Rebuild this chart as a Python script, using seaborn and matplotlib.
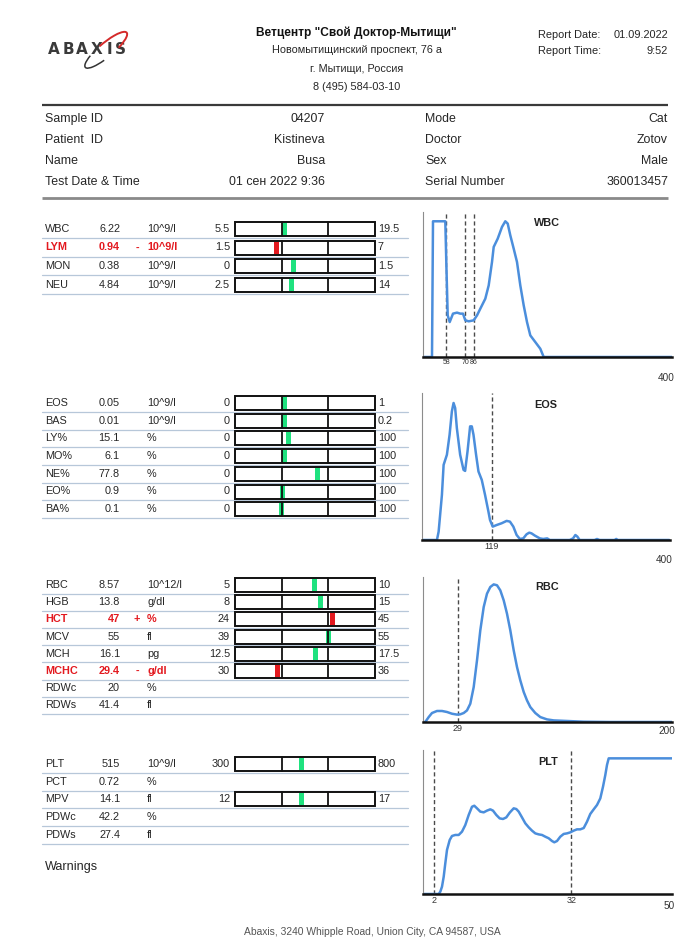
import numpy as np
import pandas as pd
import matplotlib
matplotlib.use("Agg")
import matplotlib.pyplot as plt
import seaborn as sns
from matplotlib.patches import Rectangle, Arc

# ---------------- DATA ----------------
clinic_name = 'Ветцентр "Свой Доктор-Мытищи"'
clinic_address = ["Новомытищинский проспект, 76 а", "г. Мытищи, Россия", "8 (495) 584-03-10"]
report_labels = ["Report Date:", "Report Time:"]
report_values = ["01.09.2022", "9:52"]

info_left_labels = ["Sample ID", "Patient  ID", "Name", "Test Date & Time"]
info_left_values = ["04207", "Kistineva", "Busa", "01 сен 2022 9:36"]
info_right_labels = ["Mode", "Doctor", "Sex", "Serial Number"]
info_right_values = ["Cat", "Zotov", "Male", "360013457"]

wbc_names = ["WBC", "LYM", "MON", "NEU"]
wbc_values = ["6.22", "0.94", "0.38", "4.84"]
wbc_flags = ["", "-", "", ""]
wbc_units = ["10^9/l", "10^9/l", "10^9/l", "10^9/l"]
wbc_low = ["5.5", "1.5", "0", "2.5"]
wbc_high = ["19.5", "7", "1.5", "14"]

eos_names = ["EOS", "BAS", "LY%", "MO%", "NE%", "EO%", "BA%"]
eos_values = ["0.05", "0.01", "15.1", "6.1", "77.8", "0.9", "0.1"]
eos_flags = ["", "", "", "", "", "", ""]
eos_units = ["10^9/l", "10^9/l", "%", "%", "%", "%", "%"]
eos_low = ["0", "0", "0", "0", "0", "0", "0"]
eos_high = ["1", "0.2", "100", "100", "100", "100", "100"]

rbc_names = ["RBC", "HGB", "HCT", "MCV", "MCH", "MCHC", "RDWc", "RDWs"]
rbc_values = ["8.57", "13.8", "47", "55", "16.1", "29.4", "20", "41.4"]
rbc_flags = ["", "", "+", "", "", "-", "", ""]
rbc_units = ["10^12/l", "g/dl", "%", "fl", "pg", "g/dl", "%", "fl"]
rbc_low = ["5", "8", "24", "39", "12.5", "30", None, None]
rbc_high = ["10", "15", "45", "55", "17.5", "36", None, None]

plt_names = ["PLT", "PCT", "MPV", "PDWc", "PDWs"]
plt_values = ["515", "0.72", "14.1", "42.2", "27.4"]
plt_flags = ["", "", "", "", ""]
plt_units = ["10^9/l", "%", "fl", "%", "fl"]
plt_low = ["300", None, "12", None, None]
plt_high = ["800", None, "17", None, None]

# histogram curves (channel, relative count)
wbc_hist_x = [0, 9, 10, 22.3, 23.5, 24.7, 26.7, 30, 34, 37.3, 40, 42.3, 45.7, 50.7, 54, 57.3, 62.3,
              65.7, 69, 70.7, 74.7, 79, 82.3, 84.7, 87.3, 90.7, 94, 97.3, 100.7, 104, 107.3, 112.3,
              117.3, 120.7, 249]
wbc_hist_y = [0, 0, 93.6, 93.6, 60, 28.7, 24.1, 29.9, 30.6, 29.9, 29.9, 25.3, 24.6, 25.3, 28.7, 33.3, 40.2,
              49.4, 65.5, 75.9, 81.6, 89.7, 93.6, 92.0, 83.9, 74.7, 65.5, 49.4, 35.6, 24.1, 14.9, 10.3,
              5.7, 0, 0]
wbc_disc = [23.3, 42.3, 50.7]
wbc_disc_labels = ["58", "70", "86"]

eos_hist_x = [0, 15, 16.7, 20, 21.7, 25, 27.7, 30, 31.7, 33.3, 35, 38.3, 41.7, 43.3, 45.7, 48.3, 50,
              51.7, 54.3, 56.7, 60, 63.3, 66.7, 68.3, 71, 75, 80, 85, 88.3, 91.7, 95, 98.3, 101.7, 105,
              107.7, 110, 113.3, 118.3, 121.7, 125.7, 128.3, 148.3, 151.7, 154, 156, 158.3, 173.3,
              175.7, 178.3, 193.3, 195, 196.7, 248.3]
eos_hist_y = [0, 0, 5.7, 30.7, 51.1, 58, 71.6, 87.5, 93.2, 89.8, 76.1, 58, 47.7, 47, 60.2, 77.3, 77.3,
              71.6, 58, 46.6, 40.9, 30.7, 19.3, 13.6, 9.1, 10.2, 11.4, 13, 12.5, 9.1, 3.4, 0.7, 1.1, 3.9,
              5, 4.5, 3, 1.1, 0.7, 1.1, 0, 0, 1.1, 3.4, 2.3, 0, 0, 0.7, 0, 0, 0.7, 0, 0]
eos_disc = [70]
eos_disc_labels = ["119"]

rbc_hist_x = [0, 2.3, 5.7, 9, 14, 19, 24, 29, 34, 37.3, 40.7, 44, 47.3, 50.7, 54, 57.3, 60.7, 64, 67.3,
              70.7, 74, 77.3, 80.7, 84, 87.3, 90.7, 94, 97.3, 100.7, 104, 107.3, 112.3, 117.3, 124,
              130.7, 144, 160.7, 187.3, 249]
rbc_hist_y = [0, 0, 3.4, 6.2, 7.6, 7.6, 6.9, 5.7, 5.1, 5.3, 6.2, 8, 12.6, 24.1, 42.5, 63.2, 79.3, 88.5,
              93.1, 94.9, 94.3, 90.8, 83.9, 74.7, 63.2, 49.4, 37.9, 28.7, 20.7, 14.9, 10.3, 6.2, 3.4,
              1.8, 1.1, 0.7, 0.2, 0, 0]
rbc_disc = [35]
rbc_disc_labels = ["29"]

plt_hist_x = [0, 15.7, 17.3, 19, 20.7, 22.3, 24, 26.7, 29, 32.3, 35.7, 39, 42.3, 45.7, 49, 51.3, 54, 57.3,
              60.7, 64, 67.3, 70, 73.3, 76.7, 80, 83.3, 86.7, 90.7, 93.3, 95.7, 99, 102.3, 105.7, 109,
              112.3, 115.7, 119, 122.3, 125.7, 129, 131.3, 134, 137.3, 140.7, 144, 147.3, 150.7, 154,
              157.3, 160.7, 164, 167.3, 170.7, 174, 177.3, 180, 182.3, 184, 185.7, 249]
plt_hist_y = [0, 0, 1.6, 5.1, 12, 21.3, 30.6, 37.5, 40.3, 41, 41, 43.3, 47.9, 54.9, 60.6, 61.3, 59.5,
              57.2, 56.7, 57.9, 58.8, 57.9, 54.9, 52.5, 52.1, 53.2, 56.5, 59.5, 59, 57.2, 53.2, 49.1,
              46.3, 44, 42.1, 41.4, 41, 39.8, 38.7, 36.8, 35.9, 36.8, 39.8, 41.7, 42.1, 42.8, 44,
              44.9, 44.9, 45.8, 50.2, 55.6, 58.8, 61.8, 66.4, 74.5, 82.6, 89.6, 94.2, 94.2]
plt_disc = [10.7, 148.3]
plt_disc_labels = ["2", "32"]

footer = "Abaxis, 3240 Whipple Road, Union City, CA 94587, USA"

# ---------------- STYLE ----------------
sns.set_theme(style="white")
plt.rcParams["font.family"] = ["Liberation Sans", "DejaVu Sans"]

W, H = 700, 951
TXT = "#262626"
RED = "#e3191f"
GREEN = "#1fe27f"
BLUE = "#4b8edc"
SEP = "#b7c7d9"
FS = 7.8

fig = plt.figure(figsize=(7, 9.51), dpi=100)
bg = fig.add_axes([0, 0, 1, 1])
bg.set_xlim(0, W)
bg.set_ylim(H, 0)
bg.axis("off")


def t(x, y, s, fs=FS, c=TXT, ha="left", va="center", **kw):
    bg.text(x, y, s, fontsize=fs, color=c, ha=ha, va=va, **kw)


# ---------------- HEADER ----------------
# logo
for ch, lx in zip("ABAXIS", [54, 68, 82, 97, 109, 120]):
    t(lx, 49, ch, fs=11, c="#3a3a3a", ha="center", fontweight="bold",
      family=["DejaVu Sans"])
bg.add_patch(Arc((106, 50), 54, 14, angle=-40, theta1=-110, theta2=30, color="#d42a2a",
                 lw=1.4, zorder=3))
bg.add_patch(Arc((106, 50), 54, 14, angle=-40, theta1=140, theta2=200, color="#333333",
                 lw=1.1, zorder=3))

t(356, 33, clinic_name, fs=8.6, ha="center", fontweight="bold", c="#111111")
for i, line in enumerate(clinic_address):
    t(357, 50 + i * 18.5, line, fs=7.8, ha="center")
for i, (lab, val) in enumerate(zip(report_labels, report_values)):
    t(538, 35 + i * 15.5, lab, fs=7.9)
    t(668, 35 + i * 15.5, val, fs=7.9, ha="right")

bg.plot([42, 668], [105, 105], color="#3a3a3a", lw=1.6, solid_capstyle="butt")

for i in range(4):
    y = 119 + i * 21
    t(45, y, info_left_labels[i], fs=8.9)
    t(325, y, info_left_values[i], fs=8.9, ha="right")
    t(425, y, info_right_labels[i], fs=8.9)
    t(668, y, info_right_values[i], fs=8.9, ha="right")

bg.plot([42, 668], [198, 198], color="#8a8a8a", lw=2.0, solid_capstyle="butt")

# ---------------- TABLES ----------------
BOX_L, BOX_R = 235, 375
D1 = BOX_L + (BOX_R - BOX_L) / 3
D2 = BOX_L + 2 * (BOX_R - BOX_L) / 3


def section(y0, dy, names, values, flags, units, lows, highs):
    for i in range(len(names)):
        y = y0 + i * dy
        flagged = flags[i] != ""
        col = RED if flagged else TXT
        fw = "bold" if flagged else "normal"
        t(45, y, names[i], c=col, fontweight=fw)
        t(120, y, values[i], c=col, fontweight=fw, ha="right")
        if flagged:
            t(137, y, flags[i], c=col, fontweight="bold", ha="center")
        t(147, y, units[i], c=col, fontweight=fw)
        if lows[i] is not None:
            lo, hi, v = float(lows[i]), float(highs[i]), float(values[i])
            t(230, y, lows[i], ha="right")
            t(378, y, highs[i])
            bg.add_patch(Rectangle((BOX_L, y - 7), BOX_R - BOX_L, 14, fill=False,
                                   ec="#111111", lw=1.4, zorder=3))
            frac = (v - lo) / (hi - lo)
            mx = D1 + frac * (D2 - D1)
            mx = min(max(mx, BOX_L + 3), BOX_R - 3)
            bg.add_patch(Rectangle((mx - 2.5, y - 6), 5, 12, color=RED if flagged else GREEN,
                                   lw=0, zorder=2))
            for d in (D1, D2):
                bg.plot([d, d], [y - 7, y + 7], color="#111111", lw=1.3, zorder=4)
        bg.plot([42, 408], [y + dy / 2, y + dy / 2], color=SEP, lw=0.9, zorder=1)


section(229, 18.5, wbc_names, wbc_values, wbc_flags, wbc_units, wbc_low, wbc_high)
section(403, 17.7, eos_names, eos_values, eos_flags, eos_units, eos_low, eos_high)
section(585, 17.2, rbc_names, rbc_values, rbc_flags, rbc_units, rbc_low, rbc_high)
section(764, 17.7, plt_names, plt_values, plt_flags, plt_units, plt_low, plt_high)
t(45, 867, "Warnings", fs=9.1)

t(372, 932, footer, fs=7.4, c="#555555", ha="center")


# ---------------- HISTOGRAMS ----------------
def hist(box, xs, ys, title, disc, disc_labels, tick_fs, end_label, end_dy, title_xy):
    l, tp, r, b = box
    ax = fig.add_axes([l / W, 1 - b / H, (r - l) / W, (b - tp) / H])
    ax.set_facecolor("none")
    df = pd.DataFrame({"channel": xs, "count": ys})
    sns.lineplot(data=df, x="channel", y="count", ax=ax, color=BLUE, lw=1.8,
                 estimator=None, sort=False, zorder=2)
    for d in disc:
        ax.axvline(d, color="#4a4a4a", lw=1.0, ls=(0, (3, 2)), zorder=1)
    ax.set_xlim(0, 249)
    ax.set_ylim(0, 100)
    ax.set_xticks(disc)
    ax.set_xticklabels(disc_labels)
    ax.tick_params(axis="x", length=0, pad=1.5, labelsize=tick_fs, colors="#333333")
    ax.set_yticks([])
    ax.set_xlabel("")
    ax.set_ylabel("")
    for s in ("top", "right"):
        ax.spines[s].set_visible(False)
    ax.spines["left"].set_color("#8c8c8c")
    ax.spines["left"].set_linewidth(0.8)
    ax.spines["bottom"].set_color("#111111")
    ax.spines["bottom"].set_linewidth(1.8)
    ax.text(title_xy[0], title_xy[1], title, transform=ax.transAxes, ha="center", va="center",
            fontsize=7.8, fontweight="bold", color="#222222")
    ax.text(1.012, -end_dy / (b - tp), end_label, transform=ax.transAxes, ha="right",
            va="center", fontsize=7.2, color="#333333")
    return ax


hist((423, 212, 672, 357), wbc_hist_x, wbc_hist_y, "WBC", wbc_disc, wbc_disc_labels, 5,
     "400", 21, (0.498, 0.924))
hist((422, 393, 670, 540), eos_hist_x, eos_hist_y, "EOS", eos_disc, eos_disc_labels, 6.5,
     "400", 20, (0.5, 0.918))
hist((423, 577, 672, 722), rbc_hist_x, rbc_hist_y, "RBC", rbc_disc, rbc_disc_labels, 6.5,
     "200", 9, (0.498, 0.93))
hist((423, 750, 672, 894), plt_hist_x, plt_hist_y, "PLT", plt_disc, plt_disc_labels, 6.5,
     "50", 12, (0.502, 0.917))

fig.savefig("out.png", dpi=100, facecolor="white")
